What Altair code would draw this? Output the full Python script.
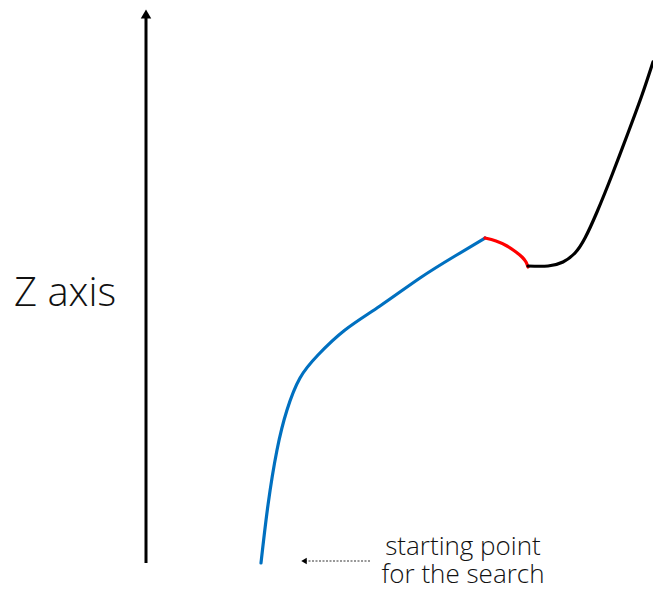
import altair as alt
import pandas as pd

W, H = 653, 590

blue_x = [261, 268, 277, 287, 300, 318, 345, 380, 420, 455, 485]
blue_y = [563, 505, 450, 410, 378, 355, 330, 306, 278, 256, 238]
red_x = [485, 496, 507, 516, 522, 526, 528]
red_y = [238, 241, 246, 252, 257, 262, 267]
black_x = [528, 548, 563, 575, 585, 597, 612, 628, 642, 653]
black_y = [266, 266, 262, 253, 238, 212, 175, 133, 95, 62]

axis_x = [146, 146]
axis_y = [563, 16]

dash_x = [370, 306]
dash_y = [561, 561]

labels = ["Z axis", "starting point\nfor the search"]
label_x = [14, 463]
label_y = [306, 555]

def seg(xs, ys, name):
    return pd.DataFrame({"x": xs, "y": ys, "i": range(len(xs)), "s": name})

xs = alt.Scale(domain=[0, W], range=[0, W])
ys = alt.Scale(domain=[0, H], range=[0, H])

def X():
    return alt.X("x:Q", scale=xs, axis=None)

def Y():
    return alt.Y("y:Q", scale=ys, axis=None)

def curve(df, color):
    return alt.Chart(df).mark_line(color=color, strokeWidth=3.2, interpolate="natural", strokeCap="round").encode(
        x=X(), y=Y(), order="i:Q")

blue = curve(seg(blue_x, blue_y, "blue"), "#0070C0")
red = curve(seg(red_x, red_y, "red"), "#FF0000")
black = curve(seg(black_x, black_y, "black"), "#000000")

axis_line = alt.Chart(seg(axis_x, axis_y, "axis")).mark_line(color="black", strokeWidth=3).encode(
    x=X(), y=Y(), order="i:Q")
axis_head = alt.Chart(pd.DataFrame({"x": [axis_x[0]], "y": [14]})).mark_point(
    shape="triangle-up", filled=True, color="black", size=110, opacity=1).encode(x=X(), y=Y())

dash_line = alt.Chart(seg(dash_x, dash_y, "dash")).mark_line(color="#333333", strokeWidth=1.2, strokeDash=[2, 1.5]).encode(
    x=X(), y=Y(), order="i:Q")
dash_head = alt.Chart(pd.DataFrame({"x": [304], "y": [561]})).mark_point(
    shape="triangle-left", filled=True, color="black", size=40, opacity=1).encode(x=X(), y=Y())

zlab = alt.Chart(pd.DataFrame({"x": label_x[:1], "y": label_y[:1], "t": labels[:1]})).mark_text(
    align="left", baseline="alphabetic", fontSize=40, font="Open Sans", fontWeight=300, color="#111111").encode(
    x=X(), y=Y(), text="t:N")
slab = alt.Chart(pd.DataFrame({"x": label_x[1:], "y": label_y[1:], "t": labels[1:]})).mark_text(
    align="center", baseline="alphabetic", fontSize=26, lineHeight=28, lineBreak="\n",
    font="Open Sans", fontWeight=300, color="#111111").encode(
    x=X(), y=Y(), text="t:N")

chart = alt.layer(axis_line, axis_head, blue, red, black, dash_line, dash_head, zlab, slab).properties(
    width=W, height=H, padding=0, autosize=alt.AutoSizeParams(type="none")
).configure_view(stroke=None)

chart.save("out.html", embed_options={"renderer": "svg", "actions": False})
